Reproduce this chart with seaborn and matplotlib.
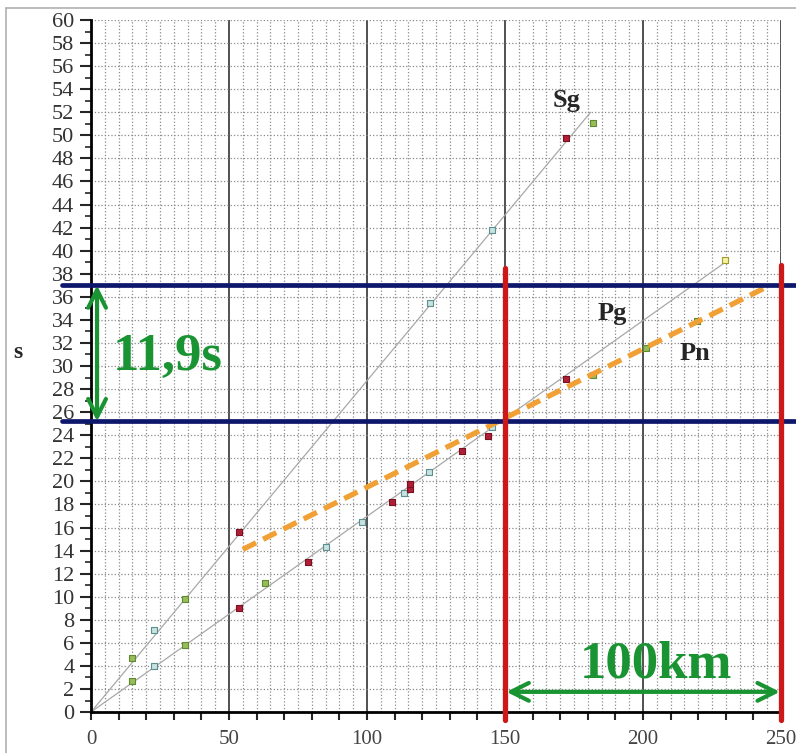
import numpy as np
import pandas as pd
import matplotlib.pyplot as plt
import seaborn as sns
from matplotlib.ticker import MultipleLocator
from matplotlib.lines import Line2D

# travel-time points (km, s), grouped by marker colour
green_x = [15, 15, 34, 34, 63, 182, 182, 201, 219.4]
green_y = [4.7, 2.7, 9.8, 5.8, 11.2, 51.1, 29.2, 31.6, 33.9]
cyan_x = [23, 23, 85, 98.3, 113.4, 122.5, 145.3, 122.8, 145.3]
cyan_y = [7.1, 4.0, 14.3, 16.5, 19.0, 20.8, 24.7, 35.5, 41.8]
red_x = [53.5, 53.5, 78.7, 109, 115.6, 115.6, 134.3, 143.8, 172.1, 172.1]
red_y = [15.6, 9.0, 13.0, 18.2, 19.3, 19.8, 22.6, 23.9, 49.8, 28.9]
yellow_x = [229.7]
yellow_y = [39.2]

# travel-time curves
sg_x, sg_y = [0, 181], [0, 52.0]
pg_x, pg_y = [0, 231], [0, 39.2]
pn_x, pn_y = [55, 246], [14.1, 37.0]

# construction lines
blue_levels = [25.2, 37.0]
red_dist = [150, 250]
red_top = [38.5, 38.8]

curve_labels = ["Sg", "Pg", "Pn"]
curve_label_pos = [(167.4, 52.5), (183.7, 34.0), (213.4, 30.5)]

sns.set_style("white")
plt.rcParams['font.family'] = ['Liberation Serif', 'DejaVu Serif']

fig = plt.figure(figsize=(7.96, 7.53), dpi=100)
ax = fig.add_axes([0.1143, 0.0544, 0.8669, 0.919])

# grid
ax.set_xlim(0, 250)
ax.set_ylim(0, 60)
ax.set_xticks(range(0, 251, 50))
ax.xaxis.set_minor_locator(MultipleLocator(10))
ax.set_yticks(range(0, 61, 2))
ax.yaxis.set_minor_locator(MultipleLocator(1))
ax.grid(axis='x', which='major', color='#333333', lw=1.2, ls='-')
ax.grid(axis='y', which='major', color='#8a8a8a', lw=0.9, ls=':')
for xv in np.arange(5, 250, 5):
    if xv % 50:
        ax.axvline(xv, color='#8a8a8a', lw=0.9, ls=':', zorder=0.5)
ax.set_axisbelow(True)

for side in ['top', 'right']:
    ax.spines[side].set_visible(False)
for side in ['left', 'bottom']:
    ax.spines[side].set_linewidth(2)
    ax.spines[side].set_color('black')

ax.tick_params(axis='y', which='major', length=8, width=1.5, labelsize=16,
               pad=4, labelcolor='#333333', left=True)
ax.tick_params(axis='y', which='minor', length=4, width=1.2, left=True)
ax.tick_params(axis='x', which='both', length=6, width=1.5, labelsize=15,
               pad=7, labelcolor='#444444', bottom=True)

# curves
sns.lineplot(x=sg_x, y=sg_y, ax=ax, color='#a8a8a8', lw=0.9, zorder=2)
sns.lineplot(x=pg_x, y=pg_y, ax=ax, color='#a8a8a8', lw=0.9, zorder=2)
ax.plot(pn_x, pn_y, color='#f0a035', lw=3.8, dashes=(2.8, 1.5), zorder=4)

# points
groups = [
    (green_x, green_y, '#98bc58', '#5f8a30'),
    (cyan_x, cyan_y, '#c6e2e2', '#5d8f8f'),
    (red_x, red_y, '#b01e36', '#7a1020'),
    (yellow_x, yellow_y, '#f6f2a0', '#a09a30'),
]
for gx, gy, fc, ec in groups:
    df = pd.DataFrame({'km': gx, 's': gy})
    sns.scatterplot(data=df, x='km', y='s', ax=ax, marker='s', s=24,
                    color=fc, edgecolor=ec, linewidth=0.8, zorder=3)

# blue horizontal and red vertical lines
for yv in blue_levels:
    ax.plot([-10.5, 255.5], [yv, yv], color='#0d176c', lw=3.4,
            clip_on=False, zorder=5)
for xv, top in zip(red_dist, red_top):
    ax.plot([xv, xv], [-0.7, top], color='#cc1818', lw=3.8,
            clip_on=False, zorder=6)

green = '#1a9432'
ax.annotate('', xy=(2.2, blue_levels[0]), xytext=(2.2, blue_levels[1]),
            arrowprops=dict(arrowstyle='<->', color=green, lw=3,
                            mutation_scale=32, shrinkA=0, shrinkB=0), zorder=7)
ax.annotate('', xy=(150.5, 1.75), xytext=(249.6, 1.75),
            arrowprops=dict(arrowstyle='<->', color=green, lw=3,
                            mutation_scale=32, shrinkA=0, shrinkB=0), zorder=7)
ax.text(8.0, 29.7, '11,9s', color=green, fontsize=38, fontweight='bold',
        va='baseline', ha='left', zorder=7)
ax.text(177.2, 3.0, '100km', color=green, fontsize=38, fontweight='bold',
        va='baseline', ha='left', zorder=7)

for lab, (tx, ty) in zip(curve_labels, curve_label_pos):
    ax.text(tx, ty, lab, fontsize=19, fontweight='bold', va='baseline',
            ha='left', zorder=7)

ax.set_xlabel('')
ax.set_ylabel('')
fig.text(18 / 796, 1 - 352 / 753, 's', fontsize=17, fontweight='bold',
         ha='center', va='center')

# picture frame
fig.add_artist(Line2D([6 / 796, 1], [1 - 8 / 753] * 2, color='#b0b0b0',
                      lw=1.2, transform=fig.transFigure))
fig.add_artist(Line2D([6 / 796] * 2, [0, 1 - 8 / 753], color='#b0b0b0',
                      lw=1.2, transform=fig.transFigure))

fig.savefig('out.png', dpi=100)
